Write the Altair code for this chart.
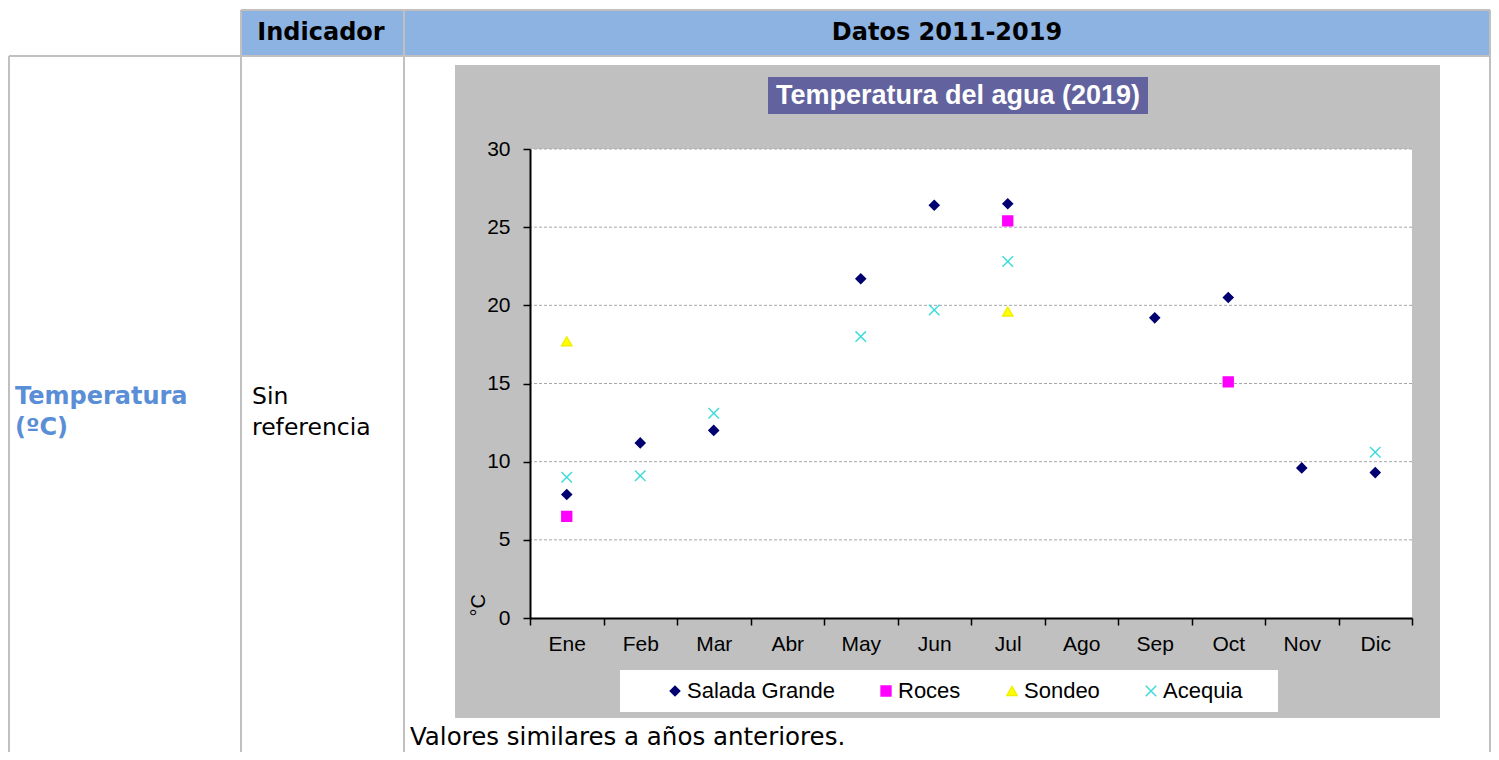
import altair as alt
import pandas as pd

# ---------------- data ----------------
months = ["Ene", "Feb", "Mar", "Abr", "May", "Jun", "Jul", "Ago", "Sep", "Oct", "Nov", "Dic"]
series_names = ["Salada Grande", "Roces", "Sondeo", "Acequia"]
salada_grande = [7.9, 11.2, 12.0, None, 21.7, 26.4, 26.5, None, 19.2, 20.5, 9.6, 9.3]
roces = [6.5, None, None, None, None, None, 25.4, None, None, 15.1, None, None]
sondeo = [17.7, None, None, None, None, None, 19.6, None, None, None, None, None]
acequia = [9.0, 9.1, 13.1, None, 18.0, 19.7, 22.8, None, None, None, None, 10.6]
y_ticks = [0, 5, 10, 15, 20, 25, 30]

chart_title = "Temperatura del agua (2019)"
y_title = "°C"
header_1 = "Indicador"
header_2 = "Datos 2011-2019"
indicator = ["Temperatura", "(ºC)"]
reference = ["Sin", "referencia"]
note = "Valores similares a años anteriores."

rows = []
for name, vals in zip(series_names, [salada_grande, roces, sondeo, acequia]):
    for i, v in enumerate(vals):
        if v is not None:
            rows.append({"serie": name, "mes": months[i], "pos": i + 0.5, "temp": v})
df = pd.DataFrame(rows)
grid_df = pd.DataFrame({"t": y_ticks[1:]})

# ---------------- layout ----------------
W, H = 882, 469            # plot area
OX, OY = 530, 149          # plot origin in page pixels
PAD = {"left": OX - 8, "top": OY - 8, "right": 1483 - (OX - 8) - W, "bottom": 744 - (OY - 8) - H}

def px(x):
    return x - OX

def py(y):
    return y - OY

one = pd.DataFrame({"a": [0]})

def rect(x1, y1, x2, y2, color):
    return alt.Chart(one).mark_rect(color=color, opacity=1).encode(
        x=alt.value(px(x1)), x2=alt.value(px(x2)), y=alt.value(py(y1)), y2=alt.value(py(y2)))

def line(x1, y1, x2, y2, color="#C0C0C0", w=2):
    return alt.Chart(one).mark_rule(color=color, strokeWidth=w).encode(
        x=alt.value(px(x1)), x2=alt.value(px(x2)), y=alt.value(py(y1)), y2=alt.value(py(y2)))

def text(t, x, y, size, color="#000000", bold=False, align="left", font="DejaVu Sans"):
    return alt.Chart(one).mark_text(text=t, font=font, fontSize=size, color=color,
                                    fontWeight="bold" if bold else "normal",
                                    align=align, baseline="middle").encode(
        x=alt.value(px(x)), y=alt.value(py(y)))

deco = [
    rect(241, 10, 1491, 56, "#8DB3E2"),
    rect(455, 65, 1440, 718, "#C0C0C0"),
    rect(530, 149, 1412, 618, "#FFFFFF"),
    rect(768, 77, 1148, 114, "#62629E"),
    text(chart_title, 958, 96, 27, color="#FFFFFF", bold=True, align="center", font="Liberation Sans"),
    rect(620, 670, 1278, 712, "#FFFFFF"),
    line(241, 10, 1490, 10),
    line(9, 56, 1490, 56),
    line(241, 10, 241, 760),
    line(404, 10, 404, 760),
    line(1490, 10, 1490, 760),
    line(9, 56, 9, 760),
    text(header_1, 321, 33, 24, bold=True, align="center"),
    text(header_2, 947, 33, 24, bold=True, align="center"),
    text(indicator[0], 15, 397, 24, color="#5A8ED6", bold=True),
    text(indicator[1], 15, 428, 24, color="#5A8ED6", bold=True),
    text(reference[0], 252, 397, 23.5),
    text(reference[1], 252, 428, 23.5),
    text(note, 410, 738, 24.5),
]

label_expr = "[" + ",".join("'" + m + "'" for m in months + [""]) + "][datum.value]"

grid = alt.Chart(grid_df).mark_rule(color="#A8A8A8", strokeWidth=1, strokeDash=[3, 2]).encode(
    y=alt.Y("t:Q"))

legend = alt.Legend(title=None, orient="none", legendX=px(664), legendY=py(680),
                    direction="horizontal", labelFont="Liberation Sans", labelFontSize=22,
                    labelColor="#000000", columnPadding=40, labelOffset=1, padding=0,
                    symbolStrokeWidth=1.5)

points = alt.Chart(df).mark_point(opacity=1, strokeWidth=1.5).encode(
    x=alt.X("pos:Q", scale=alt.Scale(domain=[0, 12], nice=False, zero=False),
            axis=alt.Axis(values=list(range(13)), labelExpr=label_expr, labelOffset=W / 24,
                          labelFlush=False, title=None, grid=False, labelPadding=8,
                          labelBaseline="top", zindex=1)),
    y=alt.Y("temp:Q", scale=alt.Scale(domain=[0, 30], nice=False),
            axis=alt.Axis(values=y_ticks, title=y_title, grid=False, labelPadding=13, zindex=1,
                          titleAngle=270, titleAlign="left", titleBaseline="middle",
                          titleX=-52, titleY=H - 2, titleFont="Liberation Sans",
                          titleFontSize=20, titleFontWeight="normal", titleColor="#000000")),
    shape=alt.Shape("serie:N", scale=alt.Scale(domain=series_names,
                    range=["diamond", "square", "triangle-up", "M-1,-1L1,1M-1,1L1,-1"]), legend=legend),
    fill=alt.Fill("serie:N", scale=alt.Scale(domain=series_names,
                  range=["#000070", "#FF00FF", "#FFFF00", "transparent"]), legend=legend),
    stroke=alt.Stroke("serie:N", scale=alt.Scale(domain=series_names,
                      range=["#000070", "#FF00FF", "#F0F000", "#40DCDC"]), legend=legend),
    size=alt.Size("serie:N", scale=alt.Scale(domain=series_names, range=[90, 110, 70, 130]), legend=legend),
)

chart = alt.layer(*deco, grid, points).properties(
    width=W, height=H, autosize=alt.AutoSizeParams(type="none"), padding=PAD
).configure_view(strokeWidth=0).configure_axis(
    labelFont="Liberation Sans", labelFontSize=21, labelColor="#000000",
    domainColor="#000000", domainWidth=2, tickColor="#000000", tickWidth=1.5, tickSize=7
)

chart.save("out.html", embed_options={"renderer": "svg", "actions": False})
